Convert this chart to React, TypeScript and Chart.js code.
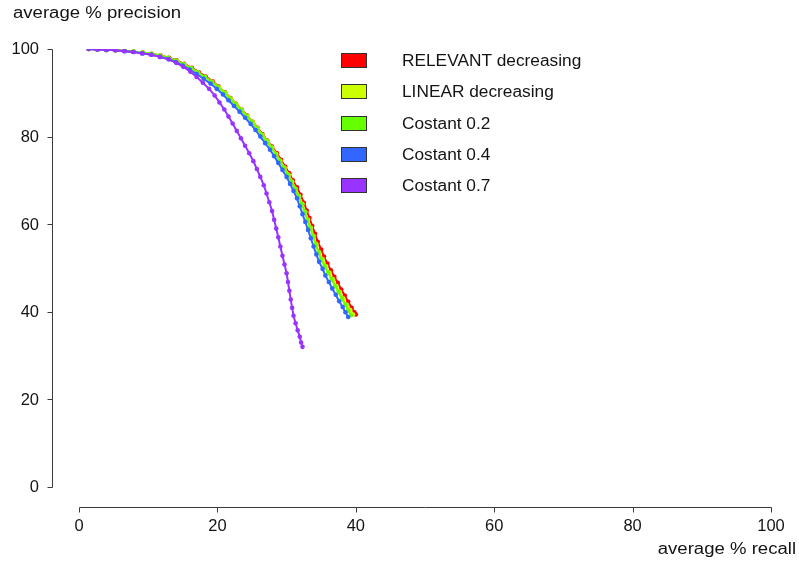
import React, { useEffect, useRef } from "react";
import { Chart, registerables } from "chart.js";

Chart.register(...registerables);

const seriesLabels = [
  "RELEVANT decreasing",
  "LINEAR decreasing",
  "Costant 0.2",
  "Costant 0.4",
  "Costant 0.7",
];
const seriesColors = ["#ff0000", "#ccff00", "#66ff00", "#3366ff", "#9933ff"];

const xTicks = [0, 20, 40, 60, 80, 100];
const yTicks = [0, 20, 40, 60, 80, 100];
const xTitle = "average % recall";
const yTitle = "average % precision";

// [recall, precision]
const relevantDecreasing = [
  [1.4, 100], [2.7, 99.9], [4.0, 99.8], [5.3, 99.7], [6.6, 99.6], [7.9, 99.4], [9.2, 99.2], [10.5, 98.9],
  [11.8, 98.5], [13.0, 98.0], [14.1, 97.4], [15.2, 96.6], [16.3, 95.7], [17.3, 94.7], [18.3, 93.7], [19.3, 92.6],
  [20.2, 91.4], [21.1, 90.1], [21.9, 88.8], [22.7, 87.5], [23.5, 86.2], [24.3, 84.8], [25.1, 83.4], [25.8, 82.0],
  [26.5, 80.6], [27.2, 79.1], [27.9, 77.7], [28.6, 76.2], [29.2, 74.7], [29.8, 73.1], [30.4, 71.6], [30.9, 70.0],
  [31.5, 68.4], [32.0, 66.7], [32.5, 64.9], [32.9, 63.1], [33.3, 61.4], [33.7, 59.6], [34.1, 57.8], [34.5, 56.0],
  [35.0, 54.2], [35.4, 52.6], [35.9, 51.0], [36.4, 49.5], [36.9, 48.0], [37.4, 46.6], [37.9, 45.1], [38.4, 43.7],
  [38.9, 42.3], [39.4, 40.9], [39.8, 39.9], [40.0, 39.4],
];
const linearDecreasing = [
  [1.4, 100], [2.7, 99.9], [4.0, 99.8], [5.3, 99.7], [6.6, 99.6], [7.9, 99.4], [9.2, 99.2], [10.5, 98.9],
  [11.7, 98.5], [12.9, 98.0], [14.1, 97.3], [15.2, 96.5], [16.2, 95.6], [17.2, 94.6], [18.2, 93.6], [19.2, 92.5],
  [20.2, 91.3], [21.1, 90.0], [21.9, 88.7], [22.7, 87.4], [23.5, 86.1], [24.3, 84.7], [25.1, 83.3], [25.8, 81.9],
  [26.5, 80.4], [27.2, 79.0], [27.9, 77.5], [28.5, 76.0], [29.1, 74.5], [29.7, 72.9], [30.3, 71.3], [30.8, 69.7],
  [31.3, 68.1], [31.8, 66.4], [32.3, 64.6], [32.7, 62.8], [33.1, 61.0], [33.5, 59.2], [33.9, 57.3], [34.3, 55.4],
  [34.7, 53.6], [35.2, 52.0], [35.7, 50.4], [36.2, 48.9], [36.7, 47.4], [37.2, 45.9], [37.7, 44.5], [38.2, 43.0],
  [38.7, 41.6], [39.2, 40.4], [39.6, 39.4],
];
const costant02 = [
  [1.4, 100], [2.7, 99.9], [4.0, 99.8], [5.3, 99.7], [6.6, 99.6], [7.9, 99.4], [9.2, 99.2], [10.5, 98.9],
  [11.7, 98.5], [12.9, 98.0], [14.0, 97.3], [15.1, 96.5], [16.2, 95.6], [17.2, 94.6], [18.2, 93.6], [19.2, 92.5],
  [20.1, 91.3], [21.0, 90.0], [21.8, 88.7], [22.6, 87.4], [23.4, 86.1], [24.2, 84.7], [25.0, 83.3], [25.7, 81.9],
  [26.4, 80.4], [27.1, 79.0], [27.8, 77.5], [28.4, 76.0], [29.0, 74.5], [29.6, 72.9], [30.2, 71.3], [30.7, 69.7],
  [31.2, 68.1], [31.7, 66.4], [32.2, 64.6], [32.6, 62.8], [33.0, 61.0], [33.4, 59.2], [33.8, 57.3], [34.2, 55.4],
  [34.6, 53.6], [35.0, 52.0], [35.5, 50.4], [36.0, 48.9], [36.5, 47.4], [37.0, 45.9], [37.5, 44.5], [38.0, 43.0],
  [38.5, 41.6], [38.9, 40.3], [39.3, 39.2],
];
const costant04 = [
  [1.4, 100], [2.7, 99.9], [4.0, 99.8], [5.3, 99.7], [6.6, 99.5], [7.9, 99.3], [9.2, 99.0], [10.5, 98.7],
  [11.7, 98.2], [12.9, 97.7], [14.0, 97.0], [15.0, 96.2], [16.0, 95.3], [17.0, 94.3], [18.0, 93.2], [19.0, 92.1],
  [19.9, 90.9], [20.8, 89.6], [21.6, 88.3], [22.4, 87.0], [23.2, 85.7], [24.0, 84.3], [24.8, 82.9], [25.5, 81.5],
  [26.2, 80.0], [26.9, 78.5], [27.6, 77.0], [28.2, 75.5], [28.8, 74.0], [29.4, 72.4], [30.0, 70.8], [30.5, 69.2],
  [31.0, 67.6], [31.5, 65.9], [31.9, 64.1], [32.3, 62.3], [32.7, 60.5], [33.1, 58.7], [33.5, 56.8], [33.9, 54.9],
  [34.3, 53.1], [34.7, 51.4], [35.2, 49.8], [35.6, 48.3], [36.1, 46.8], [36.6, 45.3], [37.1, 43.9], [37.6, 42.4],
  [38.1, 41.1], [38.5, 39.9], [38.9, 38.8],
];
const costant07 = [
  [1.4, 100], [2.6, 99.9], [3.9, 99.8], [5.2, 99.7], [6.5, 99.5], [7.8, 99.3], [9.1, 99.0], [10.4, 98.7],
  [11.7, 98.2], [13.0, 97.6], [14.1, 96.8], [15.1, 95.9], [16.1, 94.8], [17.0, 93.6], [17.9, 92.3], [18.8, 90.9],
  [19.6, 89.4], [20.3, 87.8], [21.0, 86.2], [21.6, 84.6], [22.2, 83.0], [22.8, 81.3], [23.4, 79.6], [24.0, 77.9],
  [24.6, 76.2], [25.2, 74.4], [25.7, 72.6], [26.2, 70.8], [26.7, 68.9], [27.1, 67.0], [27.5, 65.0], [27.9, 63.0],
  [28.2, 61.0], [28.5, 59.0], [28.8, 57.0], [29.1, 54.9], [29.4, 52.8], [29.7, 50.8], [30.0, 48.8], [30.2, 46.8],
  [30.4, 44.8], [30.6, 42.8], [30.8, 40.9], [31.0, 39.1], [31.3, 37.4], [31.6, 35.8], [31.9, 34.3], [32.1, 33.0],
  [32.3, 32.0],
];

const allSeries = [relevantDecreasing, linearDecreasing, costant02, costant04, costant07];

const FONT = '"Liberation Sans", Arial, Helvetica, sans-serif';
const TEXT = "#141414";
const AXIS = "#3a3a3a";

function stretchedText(ctx: CanvasRenderingContext2D, text: string, x: number, y: number, sx: number, align: CanvasTextAlign) {
  ctx.save();
  ctx.translate(x, y);
  ctx.scale(sx, 1);
  ctx.textAlign = align;
  ctx.fillText(text, 0, 0);
  ctx.restore();
}

const rAxesPlugin = {
  id: "rAxes",
  afterDraw(chart: any) {
    const ctx: CanvasRenderingContext2D = chart.ctx;
    const xs = chart.scales.x;
    const ys = chart.scales.y;
    ctx.save();
    ctx.strokeStyle = AXIS;
    ctx.lineWidth = 1;
    ctx.fillStyle = TEXT;
    ctx.font = `16px ${FONT}`;
    ctx.textBaseline = "middle";

    // y axis (detached, R style)
    const yAxisX = 52.5;
    ctx.beginPath();
    ctx.moveTo(yAxisX, Math.round(ys.getPixelForValue(yTicks[0])) + 0.5);
    ctx.lineTo(yAxisX, Math.round(ys.getPixelForValue(yTicks[yTicks.length - 1])) + 0.5);
    yTicks.forEach((t) => {
      const py = Math.round(ys.getPixelForValue(t)) + 0.5;
      ctx.moveTo(yAxisX, py);
      ctx.lineTo(yAxisX - 5, py);
    });
    ctx.stroke();
    ctx.textAlign = "right";
    yTicks.forEach((t) => {
      stretchedText(ctx, String(t), 39, ys.getPixelForValue(t) + 1, 1.03, "right");
    });

    // x axis (detached)
    const xAxisY = 507.5;
    ctx.beginPath();
    ctx.moveTo(Math.round(xs.getPixelForValue(xTicks[0])) + 0.5, xAxisY);
    ctx.lineTo(Math.round(xs.getPixelForValue(xTicks[xTicks.length - 1])) + 0.5, xAxisY);
    xTicks.forEach((t) => {
      const px = Math.round(xs.getPixelForValue(t)) + 0.5;
      ctx.moveTo(px, xAxisY);
      ctx.lineTo(px, xAxisY + 5);
    });
    ctx.stroke();
    xTicks.forEach((t) => {
      stretchedText(ctx, String(t), xs.getPixelForValue(t), 527, 1.03, "center");
    });

    // axis titles
    stretchedText(ctx, yTitle, 13, 14, 1.16, "left");
    stretchedText(ctx, xTitle, 796, 550, 1.16, "right");

    // legend
    const boxX = 341;
    const boxW = 26;
    const boxH = 15;
    const textX = 402;
    seriesLabels.forEach((lab, i) => {
      const cy = 60.5 + i * 31.3;
      ctx.fillStyle = seriesColors[i];
      ctx.fillRect(boxX, Math.round(cy - boxH / 2), boxW, boxH);
      ctx.strokeStyle = "#333333";
      ctx.strokeRect(boxX + 0.5, Math.round(cy - boxH / 2) + 0.5, boxW - 1, boxH - 1);
      ctx.fillStyle = TEXT;
      stretchedText(ctx, lab, textX, cy + 1, 1.08, "left");
    });
    ctx.restore();
  },
};

export default function App() {
  const ref = useRef<HTMLCanvasElement | null>(null);
  useEffect(() => {
    if (!ref.current) return;
    const chart = new Chart(ref.current, {
      type: "line",
      data: {
        datasets: allSeries.map((s, i) => ({
          label: seriesLabels[i],
          data: s.map(([x, y]) => ({ x, y })),
          borderColor: seriesColors[i],
          backgroundColor: seriesColors[i],
          borderWidth: 2,
          pointRadius: 2.3,
          pointBorderWidth: 0,
          pointBackgroundColor: seriesColors[i],
          tension: 0,
          fill: false,
          order: 5 - i,
        })),
      },
      options: {
        responsive: false,
        animation: false,
        devicePixelRatio: 1,
        layout: { padding: { left: 79, right: 28, top: 49, bottom: 75 } },
        scales: {
          x: { type: "linear", min: 0, max: 100, display: false },
          y: { type: "linear", min: 0, max: 100, display: false },
        },
        plugins: {
          legend: { display: false },
          tooltip: { enabled: false },
        },
      },
      plugins: [rAxesPlugin],
    });
    return () => chart.destroy();
  }, []);
  return (
    <div style={{ position: "absolute", left: 0, top: 0, width: 799, height: 562, background: "#ffffff" }}>
      <canvas ref={ref} width={799} height={562} style={{ display: "block" }} />
    </div>
  );
}
